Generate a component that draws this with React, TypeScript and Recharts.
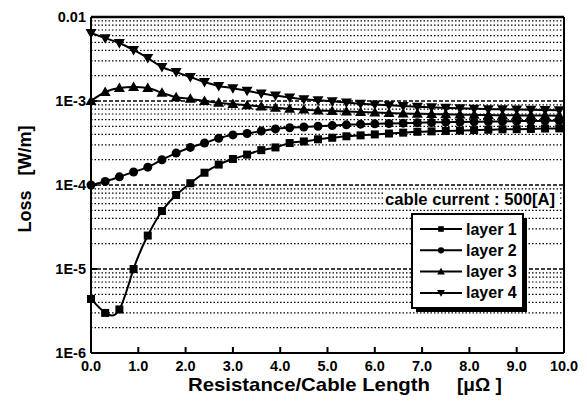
import React from "react";
import { LineChart, Line, XAxis, YAxis, ReferenceLine } from "recharts";

// resistance per cable length [μΩ]
const resistance = [
  0, 0.3, 0.6, 0.9, 1.2, 1.5, 1.8, 2.1, 2.4, 2.7, 3.0, 3.3, 3.6, 3.9, 4.2, 4.5, 4.8,
  5.1, 5.4, 5.7, 6.0, 6.3, 6.6, 6.9, 7.2, 7.5, 7.8, 8.1, 8.4, 8.7, 9.0, 9.3, 9.6, 9.9,
];

const layer1 = [
  4.4e-6, 3.0e-6, 3.3e-6, 1.0e-5, 2.5e-5, 4.9e-5, 7.6e-5, 1.05e-4, 1.4e-4, 1.75e-4,
  2.04e-4, 2.3e-4, 2.6e-4, 2.8e-4, 3.16e-4, 3.3e-4, 3.5e-4, 3.65e-4, 3.8e-4, 3.9e-4,
  4.0e-4, 4.1e-4, 4.2e-4, 4.3e-4, 4.35e-4, 4.4e-4, 4.45e-4, 4.5e-4, 4.55e-4, 4.6e-4,
  4.62e-4, 4.65e-4, 4.7e-4, 4.72e-4,
];

const layer2 = [
  1.0e-4, 1.1e-4, 1.25e-4, 1.43e-4, 1.63e-4, 2.0e-4, 2.4e-4, 2.8e-4, 3.16e-4, 3.6e-4,
  3.95e-4, 4.1e-4, 4.4e-4, 4.65e-4, 4.8e-4, 4.9e-4, 5.0e-4, 5.1e-4, 5.2e-4, 5.3e-4,
  5.35e-4, 5.4e-4, 5.45e-4, 5.5e-4, 5.55e-4, 5.6e-4, 5.62e-4, 5.65e-4, 5.7e-4, 5.72e-4,
  5.75e-4, 5.78e-4, 5.8e-4, 5.82e-4,
];

const layer3 = [
  1.0e-3, 1.28e-3, 1.43e-3, 1.47e-3, 1.43e-3, 1.25e-3, 1.11e-3, 1.06e-3, 1.0e-3, 9.5e-4,
  9.2e-4, 8.9e-4, 8.6e-4, 8.3e-4, 8.1e-4, 7.9e-4, 7.7e-4, 7.6e-4, 7.5e-4, 7.4e-4,
  7.3e-4, 7.2e-4, 7.1e-4, 7.05e-4, 7.0e-4, 6.95e-4, 6.9e-4, 6.85e-4, 6.8e-4, 6.78e-4,
  6.75e-4, 6.72e-4, 6.7e-4, 6.68e-4,
];

const layer4 = [
  6.45e-3, 5.6e-3, 4.9e-3, 4.05e-3, 3.25e-3, 2.54e-3, 2.21e-3, 1.93e-3, 1.68e-3, 1.51e-3,
  1.42e-3, 1.32e-3, 1.23e-3, 1.16e-3, 1.1e-3, 1.05e-3, 1.02e-3, 9.9e-4, 9.6e-4, 9.3e-4,
  9.1e-4, 8.9e-4, 8.7e-4, 8.55e-4, 8.4e-4, 8.3e-4, 8.2e-4, 8.1e-4, 8.0e-4, 7.95e-4,
  7.9e-4, 7.85e-4, 7.8e-4, 7.75e-4,
];

const xTicks = [0, 1, 2, 3, 4, 5, 6, 7, 8, 9, 10];
const xTickLabels = ["0.0", "1.0", "2.0", "3.0", "4.0", "5.0", "6.0", "7.0", "8.0", "9.0", "10.0"];
const yTicks = [1e-6, 1e-5, 1e-4, 1e-3, 1e-2];
const yTickLabels = ["1E-6", "1E-5", "1E-4", "1E-3", "0.01"];
const seriesNames = ["layer 1", "layer 2", "layer 3", "layer 4"];

const data = resistance.map((r, i) => ({
  r,
  l1: layer1[i],
  l2: layer2[i],
  l3: layer3[i],
  l4: layer4[i],
}));

// minor grid lines at 2..9 of every decade
const minorGrid: number[] = [];
yTicks.slice(0, -1).forEach((d) => {
  for (let k = 2; k <= 9; k++) minorGrid.push(d * k);
});

const FONT = "'Liberation Sans', Arial, sans-serif";

type Shape = "square" | "circle" | "up" | "down";

function Marker({ cx, cy, shape, s = 1 }: { cx: number; cy: number; shape: Shape; s?: number }) {
  if (cx == null || cy == null) return null;
  if (shape === "square") return <rect x={cx - 4 * s} y={cy - 4 * s} width={8 * s} height={8 * s} fill="#000" />;
  if (shape === "circle") return <circle cx={cx} cy={cy} r={4.5 * s} fill="#000" />;
  if (shape === "up")
    return <polygon points={`${cx},${cy - 5.5 * s} ${cx + 5.5 * s},${cy + 4 * s} ${cx - 5.5 * s},${cy + 4 * s}`} fill="#000" />;
  return <polygon points={`${cx},${cy + 5.5 * s} ${cx + 5.5 * s},${cy - 4 * s} ${cx - 5.5 * s},${cy - 4 * s}`} fill="#000" />;
}

const dotFor = (shape: Shape) => (props: any) => (
  <Marker key={`${shape}-${props.index}`} cx={props.cx} cy={props.cy} shape={shape} />
);

function XTick(props: any) {
  const { x, y, index } = props;
  return (
    <g>
      <line x1={x} x2={x} y1={y} y2={y - 6} stroke="#000" strokeWidth={2} />
      <text x={x} y={y + 18} textAnchor="middle" fontSize={14.5} fontWeight="bold" fontFamily={FONT} fill="#000">
        {xTickLabels[index]}
      </text>
    </g>
  );
}

function YTick(props: any) {
  const { x, y, index } = props;
  return (
    <g>
      <line x1={x} x2={x + 6} y1={y} y2={y} stroke="#000" strokeWidth={2} />
      <text x={x - 5} y={y + 5} textAnchor="end" fontSize={14.5} fontWeight="bold" fontFamily={FONT} fill="#000">
        {yTickLabels[index]}
      </text>
    </g>
  );
}

const shapes: Shape[] = ["square", "circle", "up", "down"];

export default function App() {
  return (
    <div style={{ position: "absolute", left: 0, top: 0, width: 587, height: 401, background: "#fff", fontFamily: FONT }}>
      <LineChart width={587} height={401} data={data} margin={{ top: 17, right: 23, left: 31, bottom: 18 }}>
        <XAxis
          dataKey="r"
          type="number"
          domain={[0, 10]}
          ticks={xTicks}
          tickSize={0}
          tickMargin={0}
          height={30}
          axisLine={{ stroke: "#000", strokeWidth: 2 }}
          tickLine={false}
          tick={<XTick />}
          interval={0}
        />
        <YAxis
          scale="log"
          domain={[1e-6, 1e-2]}
          ticks={yTicks}
          allowDataOverflow
          width={60}
          tickSize={0}
          tickMargin={0}
          axisLine={{ stroke: "#000", strokeWidth: 2 }}
          tickLine={false}
          tick={<YTick />}
          interval={0}
        />
        {minorGrid.map((v) => (
          <ReferenceLine key={`m${v}`} y={v} stroke="#000" strokeWidth={1.2} strokeDasharray="1.5 2" />
        ))}
        {yTicks.slice(1, -1).map((v) => (
          <ReferenceLine key={`d${v}`} y={v} stroke="#000" strokeWidth={1.4} strokeDasharray="4 2" />
        ))}
        <ReferenceLine y={1e-2} stroke="#000" strokeWidth={2.5} />
        <ReferenceLine x={10} stroke="#000" strokeWidth={2} />
        <Line dataKey="l1" type="natural" stroke="#000" strokeWidth={2} dot={dotFor("square")} isAnimationActive={false} />
        <Line dataKey="l2" type="monotone" stroke="#000" strokeWidth={2} dot={dotFor("circle")} isAnimationActive={false} />
        <Line dataKey="l3" type="monotone" stroke="#000" strokeWidth={2} dot={dotFor("up")} isAnimationActive={false} />
        <Line dataKey="l4" type="monotone" stroke="#000" strokeWidth={2} dot={dotFor("down")} isAnimationActive={false} />
      </LineChart>

      <svg width={587} height={401} style={{ position: "absolute", left: 0, top: 0, pointerEvents: "none" }}>
        <rect x={384} y={190} width={174} height={18} fill="#fff" />
        <text x={385} y={205} fontSize={16} fontWeight="bold" fontFamily={FONT} fill="#000" textLength={170} lengthAdjust="spacingAndGlyphs">
          cable current : 500[A]
        </text>
        <text x={188} y={391} fontSize={19} fontWeight="bold" fontFamily={FONT} fill="#000" textLength={242} lengthAdjust="spacingAndGlyphs">
          Resistance/Cable Length
        </text>
        <text x={457} y={391} fontSize={19} fontWeight="bold" fontFamily={FONT} fill="#000">
          [μΩ ]
        </text>
        <text
          transform="translate(31,179) rotate(-90)"
          textAnchor="middle"
          fontSize={18}
          fontWeight="bold"
          fontFamily={FONT}
          fill="#000"
          style={{ whiteSpace: "pre" }}
        >
          {"Loss   [W/m]"}
        </text>

        <rect x={416} y={218} width={111} height={94} fill="#000" />
        <rect x={412} y={214} width={111} height={94} fill="#fff" stroke="#000" strokeWidth={2} />
        {seriesNames.map((name, i) => {
          const y = 229 + i * 21.3;
          return (
            <g key={name}>
              <line x1={420} x2={462} y1={y} y2={y} stroke="#000" strokeWidth={2} />
              <Marker cx={441} cy={y} shape={shapes[i]} s={0.7} />
              <text x={466} y={y + 5.5} fontSize={16} fontWeight="bold" fontFamily={FONT} fill="#000">
                {name}
              </text>
            </g>
          );
        })}
      </svg>
    </div>
  );
}
